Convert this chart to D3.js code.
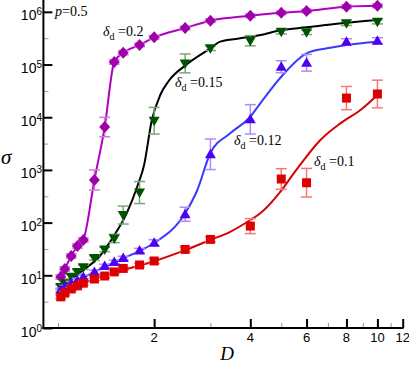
<!DOCTYPE html>
<html>
<head>
<meta charset="utf-8">
<script src="https://cdn.jsdelivr.net/npm/d3@7"></script>
<style>
  body { margin: 0; background: #fff; }
  svg { display: block; }
</style>
</head>
<body>
<svg id="chart" width="409" height="365"></svg>
<script>
// D values shared by all four runs
const dVals = [1.02, 1.05, 1.1, 1.15, 1.2, 1.3, 1.4, 1.5, 1.6, 1.8, 2, 2.5, 3, 4, 5, 6, 8, 10];

// sigma per delta_d
const sigma02  = [9.3, 13.2, 23.2, 36, 46.8, 645, 6500, 112000, 167000, 235000, 328000, 493000, 680000, 843000, 960000, 1035000, 1250000, 1300000];
const sigma015 = [6.0, 7.1, 9.4, 11.6, 14.2, 21.3, 30.9, 50, 139, 372, 8590, 105000, 203000, 283000, 419000, 408000, 605000, 649000];
const sigma012 = [5.3, 6.0, 7.1, 8.1, 9.3, 11.6, 15, 17.9, 21.3, 29.5, 41.6, 144, 1980, 9120, 90800, 108000, 271000, 283000];
const sigma01  = [3.9, 4.6, 5.5, 6.3, 7.1, 8.5, 9.7, 11.6, 13.5, 15.7, 18.7, 31, 48, 86, 672, 571, 23100, 27600];

// error bars as multiplicative factors (sigma/f .. sigma*f)
const err02  = [1.1, 1.1, 1.1, 1.1, 1.1, 1.55, 1.53, 1.1, 1.1, 1.08, 1.08, 1.08, 1.08, 1.08, 1.08, 1.08, 1.08, 1.08];
const err015 = [1.1, 1.1, 1.1, 1.1, 1.1, 1.1, 1.1, 1.2, 1.48, 1.62, 1.79, 1.51, 1.1, 1.25, 1.1, 1.1, 1.1, 1.1];
const err012 = [1.08, 1.08, 1.08, 1.08, 1.08, 1.08, 1.08, 1.08, 1.08, 1.1, 1.14, 1.36, 1.95, 1.9, 1.3, 1.44, 1.14, 1.14];
const err01  = [1.08, 1.08, 1.08, 1.08, 1.08, 1.08, 1.08, 1.08, 1.08, 1.08, 1.12, 1.12, 1.12, 1.39, 1.57, 1.87, 1.66, 1.83];

// fitted curves (drawn as lines)
const fit02D  = dVals;
const fit02S  = sigma02;
const fit015D = [1.0, 1.2, 1.35, 1.49, 1.64, 1.77, 1.86, 1.967, 2.09, 2.22, 2.52, 3.0, 3.22, 3.72, 4.3, 5, 6, 8, 10];
const fit015S = [5.7, 12.6, 23, 54, 150, 480, 1240, 8850, 26400, 48600, 99000, 203000, 272000, 314000, 362000, 452000, 508000, 621000, 699000];
const fit012D = [1.0, 1.2, 1.5, 1.8, 2.0, 2.5, 2.73, 3.0, 3.46, 4.0, 4.3, 5.0, 6.0, 6.96, 8.0, 10];
const fit012S = [4.6, 9.0, 17.5, 29, 41, 150, 416, 2100, 4950, 10200, 18400, 58700, 163000, 203000, 235000, 271000];
const fit01D  = [1.0, 1.2, 1.5, 2.0, 2.5, 3.0, 3.46, 4.0, 4.3, 4.97, 5.47, 5.88, 6.63, 7.66, 8.85, 10];
const fit01S  = [3.8, 7.0, 11.3, 18.5, 30, 47, 67, 112, 150, 386, 862, 1540, 3690, 7650, 13700, 26500];

const xMajor = [2, 4, 6, 8, 10, 12];
const xMinor = [1, 3, 5, 7, 9, 11];
const yMajor = [1, 10, 100, 1e3, 1e4, 1e5, 1e6];
const yExp   = ['0', '1', '2', '3', '4', '5', '6'];
const yMinor = [1, 2, 3, 4, 5, 6].map(e => Math.pow(10, e - 0.5));

const series = [
  { label: '0.2',  s: sigma02,  e: err02,  fd: fit02D,  fs: fit02S,  marker: 'diamond', fill: '#a000a8', line: '#b000c0', err: '#d27ad6', lx: 103, ly: 36 },
  { label: '0.15', s: sigma015, e: err015, fd: fit015D, fs: fit015S, marker: 'triDown', fill: '#005200', line: '#000000', err: '#78a878', lx: 175, ly: 87 },
  { label: '0.12', s: sigma012, e: err012, fd: fit012D, fs: fit012S, marker: 'triUp',   fill: '#5000f0', line: '#3a3aff', err: '#a98cff', lx: 234, ly: 145 },
  { label: '0.1',  s: sigma01,  e: err01,  fd: fit01D,  fs: fit01S,  marker: 'square',  fill: '#dd0000', line: '#d80000', err: '#f07a7a', lx: 314, ly: 166 }
];

const markerPath = {
  diamond: 'M0,-6L5.5,0L0,6L-5.5,0Z',
  square: 'M-4.5,-4.5h9v9h-9Z',
  triUp: 'M0,-5.5L5.5,4L-5.5,4Z',
  triDown: 'M0,5.5L5.5,-4L-5.5,-4Z'
};

const svg = d3.select('#chart');
svg.append('rect').attr('width', 409).attr('height', 365).attr('fill', '#fff');

const x = d3.scaleLog().domain([0.9, 12]).range([43.4, 402.7]);
const y = d3.scaleLog().domain([1, Math.pow(10, 6.2)]).range([328, 1.3]);

// axes
const gy = svg.append('g').attr('transform', 'translate(43.4,0)');
gy.call(d3.axisLeft(y).tickValues(yMinor).tickSize(-5).tickFormat(''));
gy.selectAll('.tick line').attr('stroke', '#999').attr('stroke-width', 1);
const gy2 = svg.append('g').attr('transform', 'translate(43.4,0)');
gy2.call(d3.axisLeft(y).tickValues(yMajor).tickSize(-9).tickFormat(''));
gy2.selectAll('.tick line').attr('stroke', '#000').attr('stroke-width', 2);
svg.selectAll('.domain').remove();

const gx = svg.append('g').attr('transform', 'translate(0,328)');
gx.call(d3.axisBottom(x).tickValues(xMinor).tickSize(-5).tickFormat(''));
gx.selectAll('.tick line').attr('stroke', '#999').attr('stroke-width', 1);
const gx2 = svg.append('g').attr('transform', 'translate(0,328)');
gx2.call(d3.axisBottom(x).tickValues(xMajor).tickSize(-9).tickFormat(''));
gx2.selectAll('.tick line').attr('stroke', '#000').attr('stroke-width', 2);
svg.selectAll('.domain').remove();

svg.append('line').attr('x1', 43.4).attr('x2', 43.4).attr('y1', 0).attr('y2', 329)
  .attr('stroke', '#000').attr('stroke-width', 2);
svg.append('line').attr('x1', 42.4).attr('x2', 403.5).attr('y1', 328).attr('y2', 328)
  .attr('stroke', '#000').attr('stroke-width', 2);

// y tick labels 10^n
yMajor.forEach(function(v, i){
  const t = svg.append('text')
    .attr('x', 42).attr('y', y(v) + 8.5)
    .attr('text-anchor', 'end')
    .attr('font-family', 'Liberation Sans, Arial, sans-serif')
    .attr('font-size', 14);
  t.append('tspan').text('10');
  t.append('tspan').attr('dy', -5).attr('font-size', 10).text(yExp[i]);
});

xMajor.forEach(function(v){
  svg.append('text')
    .attr('x', x(v)).attr('y', 342)
    .attr('text-anchor', 'middle')
    .attr('font-family', 'Liberation Sans, Arial, sans-serif')
    .attr('font-size', 13)
    .text(v);
});

svg.append('text').attr('x', 227).attr('y', 360)
  .attr('text-anchor', 'middle')
  .attr('font-family', 'Liberation Serif, Times New Roman, serif')
  .attr('font-style', 'italic').attr('font-size', 19).text('D');
svg.append('text').attr('x', 1).attr('y', 164)
  .attr('font-family', 'Liberation Serif, Times New Roman, serif')
  .attr('font-style', 'italic').attr('font-size', 21).text('σ');

// p=0.5
const pt = svg.append('text').attr('x', 55).attr('y', 16)
  .attr('font-family', 'Liberation Serif, Times New Roman, serif').attr('font-size', 14);
pt.append('tspan').attr('font-style', 'italic').text('p');
pt.append('tspan').text('=0.5');

const line = d3.line()
  .x(d => x(d[0]))
  .y(d => y(d[1]))
  .curve(d3.curveMonotoneX);

series.forEach(function(sr){
  // fitted line
  svg.append('path')
    .datum(sr.fd.map((d, i) => [d, sr.fs[i]]))
    .attr('d', line)
    .attr('fill', 'none')
    .attr('stroke', sr.line)
    .attr('stroke-width', 2);
});

series.forEach(function(sr){
  const pts = dVals.map((d, i) => ({ d: d, s: sr.s[i], f: sr.e[i] }));
  const eb = svg.append('g').attr('stroke', sr.err).attr('stroke-width', 1.5).attr('fill', 'none');
  pts.forEach(function(p){
    const cx = x(p.d), y1 = y(p.s * p.f), y2 = y(p.s / p.f);
    eb.append('line').attr('x1', cx).attr('x2', cx).attr('y1', y1).attr('y2', y2);
    eb.append('line').attr('x1', cx - 5.5).attr('x2', cx + 5.5).attr('y1', y1).attr('y2', y1);
    eb.append('line').attr('x1', cx - 5.5).attr('x2', cx + 5.5).attr('y1', y2).attr('y2', y2);
  });
  svg.append('g').selectAll('path')
    .data(pts)
    .enter().append('path')
    .attr('d', markerPath[sr.marker])
    .attr('transform', p => 'translate(' + x(p.d) + ',' + y(p.s) + ')')
    .attr('fill', sr.fill);

  // delta_d label
  const lt = svg.append('text').attr('x', sr.lx).attr('y', sr.ly)
    .attr('font-family', 'Liberation Serif, Times New Roman, serif').attr('font-size', 14);
  lt.append('tspan').attr('font-style', 'italic').text('δ');
  lt.append('tspan').attr('font-size', 10).attr('dy', 4).text('d');
  lt.append('tspan').attr('dy', -4).text(' =' + sr.label);
});
</script>
</body>
</html>
